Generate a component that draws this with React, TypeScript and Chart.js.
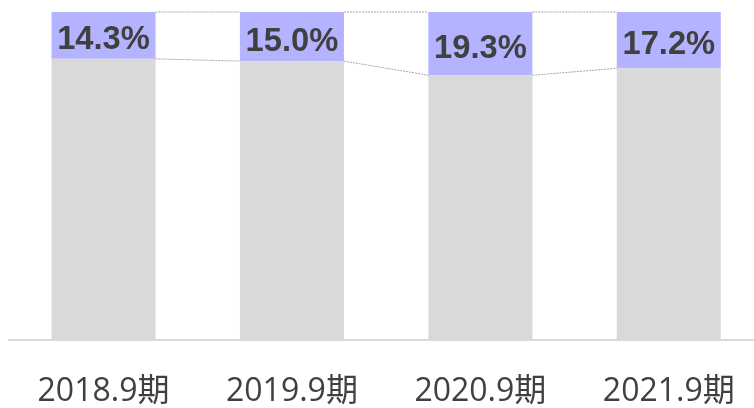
import React, { useEffect, useRef } from "react";
import { Chart, registerables } from "chart.js";

Chart.register(...registerables);

const categories = ["2018.9期", "2019.9期", "2020.9期", "2021.9期"];
const shareValues = [14.3, 15.0, 19.3, 17.2];
const restValues = [85.7, 85.0, 80.7, 82.8];
const shareLabels = ["14.3%", "15.0%", "19.3%", "17.2%"];

const connectorPlugin = {
  id: "connectors",
  afterDatasetsDraw(chart: any) {
    const ctx = chart.ctx;
    const grey = chart.getDatasetMeta(0).data;
    const purple = chart.getDatasetMeta(1).data;
    ctx.save();
    ctx.strokeStyle = "#A6A6A6";
    ctx.lineWidth = 1;
    ctx.setLineDash([2, 1]);
    for (let i = 0; i < grey.length - 1; i++) {
      const a = grey[i], b = grey[i + 1];
      const pa = purple[i], pb = purple[i + 1];
      ctx.beginPath();
      ctx.moveTo(a.x + a.width / 2, a.y);
      ctx.lineTo(b.x - b.width / 2, b.y);
      ctx.stroke();
      ctx.beginPath();
      ctx.moveTo(pa.x + pa.width / 2, pa.y);
      ctx.lineTo(pb.x - pb.width / 2, pb.y);
      ctx.stroke();
    }
    ctx.restore();
  },
};

const labelPlugin = {
  id: "shareLabels",
  afterDatasetsDraw(chart: any) {
    const ctx = chart.ctx;
    const purple = chart.getDatasetMeta(1).data;
    ctx.save();
    ctx.fillStyle = "#404040";
    ctx.font = "bold 33px 'Liberation Sans', Arial, sans-serif";
    ctx.textAlign = "center";
    ctx.textBaseline = "alphabetic";
    purple.forEach((el: any, i: number) => {
      const cy = (el.y + el.base) / 2 + 2;
      ctx.save();
      ctx.translate(el.x, cy + 12);
      ctx.scale(0.99, 1);
      ctx.fillText(shareLabels[i], 0, 0);
      ctx.restore();
    });
    ctx.restore();
  },
};

export default function App() {
  const ref = useRef<HTMLCanvasElement>(null);
  useEffect(() => {
    if (!ref.current) return;
    const chart = new Chart(ref.current, {
      type: "bar",
      data: {
        labels: categories,
        datasets: [
          {
            data: restValues,
            backgroundColor: "#D9D9D9",
            categoryPercentage: 1,
            barPercentage: 0.552,
          },
          {
            data: shareValues,
            backgroundColor: "#B3B3FF",
            categoryPercentage: 1,
            barPercentage: 0.552,
          },
        ],
      },
      options: {
        responsive: false,
        animation: false,
        layout: { padding: { left: 9.3, right: 0, top: 12, bottom: 0 } },
        plugins: { legend: { display: false }, tooltip: { enabled: false } },
        scales: {
          x: {
            stacked: true,
            grid: { display: false },
            border: { display: true, color: "#D9D9D9", width: 2 },
            ticks: {
              color: "#404040",
              padding: 25,
              font: { family: "'Open Sans', 'Noto Sans CJK JP', sans-serif", size: 32 },
              maxRotation: 0,
            },
          },
          y: {
            stacked: true,
            display: false,
            min: 0,
            max: 100,
          },
        },
      },
      plugins: [connectorPlugin, labelPlugin],
    });
    return () => chart.destroy();
  }, []);
  return (
    <div
      style={{
        position: "fixed",
        left: 0,
        top: 0,
        width: 754,
        height: 408,
        overflow: "hidden",
        background: "#fff",
      }}
    >
      <canvas ref={ref} width={763} height={436} style={{ width: 763, height: 436, display: "block" }} />
    </div>
  );
}
